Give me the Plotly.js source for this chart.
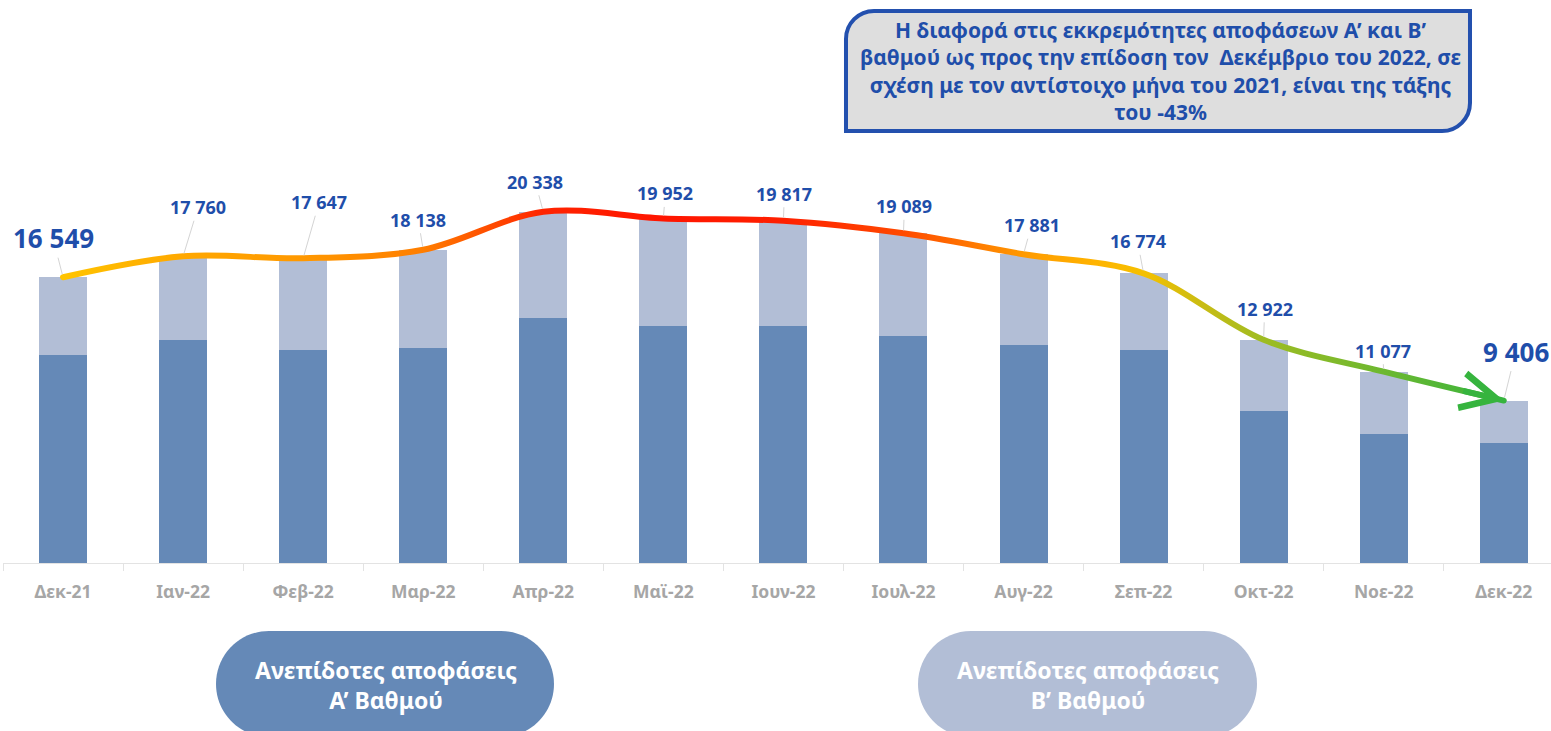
<!DOCTYPE html>
<html>
<head>
<meta charset="utf-8">
<script src="https://cdn.plot.ly/plotly-3.0.1.min.js"></script>
<style>html,body{margin:0;padding:0;background:#fff;}#chart{width:1551px;height:731px;}</style>
</head>
<body>
<div id="chart"></div>
<script>
// ---- data ----
const months = ['Δεκ-21','Ιαν-22','Φεβ-22','Μαρ-22','Απρ-22','Μαϊ-22','Ιουν-22','Ιουλ-22','Αυγ-22','Σεπ-22','Οκτ-22','Νοε-22','Δεκ-22'];
const totalPending = [16549,17760,17647,18138,20338,19952,19817,19089,17881,16774,12922,11077,9406];
const pendingFirstInstance = [12040,12910,12350,12470,14200,13740,13740,13140,12640,12350,8820,7490,6950];
const pendingSecondInstance = totalPending.map((t,i)=>t - pendingFirstInstance[i]);
const legendFirst = 'Ανεπίδοτες αποφάσεις<br>Α’ Βαθμού';
const legendSecond = 'Ανεπίδοτες αποφάσεις<br>Β’ Βαθμού';
const noteText = 'Η διαφορά στις εκκρεμότητες αποφάσεων Α’ και Β’<br>βαθμού ως προς την επίδοση τον  Δεκέμβριο του 2022, σε<br>σχέση με τον αντίστοιχο μήνα του 2021, είναι της τάξης<br>του -43%';

// ---- layout helpers (positions / styles only) ----
const FONT = "'Noto Sans', 'Open Sans', sans-serif";
const BLUE_TXT = '#1F4EAA';
const DARK = '#6589B7';
const LIGHT = '#B2BED6';
const M = {l:3, r:0, t:150, b:168};
const W = 1551 - M.l - M.r, H = 731 - M.t - M.b;
const X = p => (p - M.l) / W;
const Y = p => (M.t + H - p) / H;
// label offsets in pixels (dx, dy) relative to each point
const labelOffsets = [[-10,-39],[15,-49],[16,-56],[-5,-30],[-8,-30],[2,-25],[1,-27],[1,-27],[8,-29],[-6,-32],[1,-31],[-1,-21],[12,-49]];
const bigLabel = i => (i === 0 || i === months.length - 1);

function fmt(v){ return String(v).replace(/\B(?=(\d{3})+(?!\d))/g, ' '); }

function rr(x0,y0,x1,y1,r,c){
  const k = 0.5523;
  const P = (x,y) => X(x).toFixed(5) + ',' + Y(y).toFixed(5);
  const [tl,tr,br,bl] = c;
  let s = 'M' + P(x0 + (tl?r:0), y0);
  s += ' L' + P(x1 - (tr?r:0), y0);
  if (tr) s += ' C' + P(x1 - r + k*r, y0) + ' ' + P(x1, y0 + r - k*r) + ' ' + P(x1, y0 + r);
  s += ' L' + P(x1, y1 - (br?r:0));
  if (br) s += ' C' + P(x1, y1 - r + k*r) + ' ' + P(x1 - r + k*r, y1) + ' ' + P(x1 - r, y1);
  s += ' L' + P(x0 + (bl?r:0), y1);
  if (bl) s += ' C' + P(x0 + r - k*r, y1) + ' ' + P(x0, y1 - r + k*r) + ' ' + P(x0, y1 - r);
  s += ' L' + P(x0, y0 + (tl?r:0));
  if (tl) s += ' C' + P(x0, y0 + r - k*r) + ' ' + P(x0 + r - k*r, y0) + ' ' + P(x0 + r, y0);
  return s + ' Z';
}

const traces = [
  {type:'bar', x:months, y:pendingFirstInstance, name:'Α’ Βαθμού', width:0.4,
   marker:{color:DARK, line:{width:0}}, hoverinfo:'skip'},
  {type:'bar', x:months, y:pendingSecondInstance, name:'Β’ Βαθμού', width:0.4,
   marker:{color:LIGHT, line:{width:0}}, hoverinfo:'skip'},
  {type:'scatter', mode:'lines', x:months, y:totalPending, name:'Σύνολο',
   line:{shape:'spline', smoothing:1, width:6, color:'#FF8000'}, hoverinfo:'skip'}
];

const annotations = totalPending.map((v,i)=>({
  x: months[i], y: v, xref:'x', yref:'y',
  text: fmt(v), showarrow:true, arrowhead:0, arrowwidth:1, arrowcolor:'#D4D4D4',
  ax: labelOffsets[i][0], ay: labelOffsets[i][1], standoff:3,
  font:{family:FONT, size: bigLabel(i) ? 26 : 18, color:BLUE_TXT, weight:'bold'}
}));
// arrow head at the end of the line
annotations.push({x: months[months.length-1], y: totalPending[totalPending.length-1], xref:'x', yref:'y',
  text:'', showarrow:true, arrowhead:5, arrowsize:1.15, arrowwidth:6, arrowcolor:'#36B43E',
  ax:-42, ay:-10, standoff:0});
// note box text
annotations.push({xref:'paper', yref:'paper', x:X(1160), y:Y(71), xanchor:'center', yanchor:'middle',
  showarrow:false, text:noteText, align:'center',
  font:{family:FONT, size:21, color:BLUE_TXT, weight:'bold'}});
// legend pills text
annotations.push({xref:'paper', yref:'paper', x:X(386), y:Y(685), xanchor:'center', yanchor:'middle',
  showarrow:false, text:legendFirst, align:'center', font:{family:FONT, size:23, color:'#FFFFFF', weight:'bold'}});
annotations.push({xref:'paper', yref:'paper', x:X(1088), y:Y(685), xanchor:'center', yanchor:'middle',
  showarrow:false, text:legendSecond, align:'center', font:{family:FONT, size:23, color:'#FFFFFF', weight:'bold'}});

const shapes = [
  {type:'path', xref:'paper', yref:'paper', path: rr(846,11,1470,131,28,[true,false,true,false]),
   fillcolor:'#DEDEDE', line:{color:'#2350AE', width:4}},
  {type:'path', xref:'paper', yref:'paper', path: rr(216,631,554,737,53,[true,true,true,true]),
   fillcolor:DARK, line:{width:0}},
  {type:'path', xref:'paper', yref:'paper', path: rr(918,631,1257,737,53,[true,true,true,true]),
   fillcolor:LIGHT, line:{width:0}}
];

const layout = {
  width:1551, height:731, margin:M, autosize:false,
  paper_bgcolor:'#FFFFFF', plot_bgcolor:'#FFFFFF',
  barmode:'stack', showlegend:false,
  xaxis:{type:'category', range:[-0.5, -0.5 + W/120.06], showgrid:false, zeroline:false,
    showline:true, linecolor:'#E3E3E3', linewidth:1,
    ticks:'outside', tickson:'boundaries', ticklen:7, tickcolor:'#E3E3E3', tickwidth:1,
    ticklabelstandoff:13,
    tickfont:{family:FONT, size:17.5, color:'#A6A6A6', weight:'bold'}},
  yaxis:{range:[0, H/0.01727], showgrid:false, zeroline:false, showline:false,
    showticklabels:false, ticks:''},
  annotations, shapes
};

const gd = document.getElementById('chart');
Plotly.newPlot(gd, traces, layout, {displayModeBar:false, staticPlot:true}).then(()=>{
  const ns = 'http://www.w3.org/2000/svg';
  const svg = gd.querySelector('.main-svg');
  const defs = document.createElementNS(ns,'defs');
  const lg = document.createElementNS(ns,'linearGradient');
  lg.setAttribute('id','lineGrad');
  lg.setAttribute('x1','0'); lg.setAttribute('y1','0'); lg.setAttribute('x2','1'); lg.setAttribute('y2','0');
  const stops = [[0,'#FFC400'],[1,'#FFA800'],[2,'#FF9800'],[3,'#FF7E00'],[4,'#FF2400'],[5,'#FF1500'],
    [6,'#FF2000'],[7,'#FF4A00'],[8,'#FF9A00'],[8.6,'#FFB400'],[9,'#F5C000'],[9.5,'#C8BC14'],
    [10,'#9EBC22'],[11,'#6CB830'],[12,'#36B43E']];
  stops.forEach(([p,c])=>{
    const s = document.createElementNS(ns,'stop');
    s.setAttribute('offset', (p/12).toFixed(4));
    s.setAttribute('stop-color', c);
    lg.appendChild(s);
  });
  defs.appendChild(lg);
  svg.insertBefore(defs, svg.firstChild);
  const path = gd.querySelector('.scatterlayer .trace path.js-line');
  if (path) { path.style.stroke = 'url(#lineGrad)'; path.style.strokeLinecap = 'round'; }
});
</script>
</body>
</html>
